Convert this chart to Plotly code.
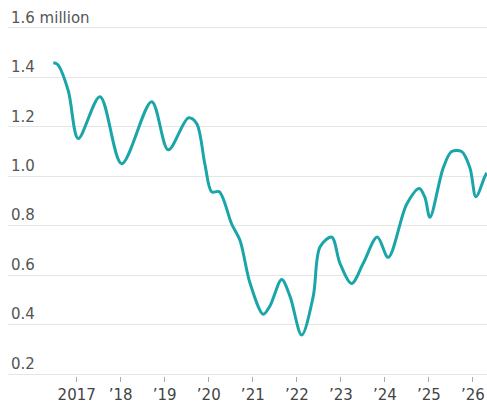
import plotly.graph_objects as go

# Traced series: time in decimal years, value in millions
years = [2016.469, 2016.568, 2016.809, 2017.036, 2017.529, 2018.022, 2018.703,
         2019.080, 2019.535, 2019.725, 2019.914, 2020.066, 2020.239, 2020.520,
         2020.709, 2020.936, 2021.238, 2021.390, 2021.656, 2021.844, 2022.110,
         2022.374, 2022.526, 2022.792, 2022.980, 2023.246, 2023.509, 2023.827,
         2024.077, 2024.495, 2024.781, 2024.911, 2025.024, 2025.326, 2025.517,
         2025.744, 2025.933, 2026.069, 2026.273, 2026.318]
values = [1.459, 1.452, 1.346, 1.153, 1.322, 1.051, 1.302,
          1.107, 1.236, 1.213, 1.047, 0.937, 0.937, 0.807,
          0.741, 0.568, 0.442, 0.475, 0.582, 0.515, 0.358,
          0.515, 0.714, 0.754, 0.648, 0.566, 0.648, 0.754,
          0.672, 0.887, 0.951, 0.914, 0.834, 1.034, 1.100,
          1.100, 1.034, 0.917, 1.000, 1.014]

x_tickvals = [2017, 2018, 2019, 2020, 2021, 2022, 2023, 2024, 2025, 2026]
x_ticktext = ["2017", "’18", "’19", "’20", "’21", "’22", "’23", "’24", "’25", "’26"]
y_tickvals = [0.2, 0.4, 0.6, 0.8, 1.0, 1.2, 1.4, 1.6]
y_ticktext = ["0.2", "0.4", "0.6", "0.8", "1.0", "1.2", "1.4", "1.6 million"]

fig = go.Figure()
fig.add_trace(go.Scatter(
    x=years, y=values, mode="lines",
    line=dict(color="#1aa5a8", width=3, shape="spline", smoothing=0.9),
    hoverinfo="skip", cliponaxis=False,
))

fig.update_layout(
    width=487, height=404,
    margin=dict(l=8, r=0, t=26, b=23),
    paper_bgcolor="white", plot_bgcolor="white",
    showlegend=False,
    font=dict(family="DejaVu Sans", size=15, color="#444"),
)
fig.update_xaxes(
    range=[2015.44, 2026.32],
    tickvals=x_tickvals, ticktext=x_ticktext,
    showgrid=False, zeroline=False, showline=False,
    ticks="outside", ticklen=5, tickwidth=1, tickcolor="#aaa",
    tickfont=dict(size=15, color="#444"),
)
fig.update_yaxes(
    range=[0.192, 1.608],
    tickvals=y_tickvals, ticktext=y_ticktext,
    showgrid=True, gridcolor="#e6e6e6", gridwidth=1,
    zeroline=False, showline=False, ticks="",
    ticklabelposition="inside top", ticklabeloverflow="allow",
    tickfont=dict(size=15, color="#555"),
)

fig.write_html(
    "out.html",
    config={"displayModeBar": False},
    post_script="document.body.style.margin='0';document.body.style.overflow='hidden';",
)
